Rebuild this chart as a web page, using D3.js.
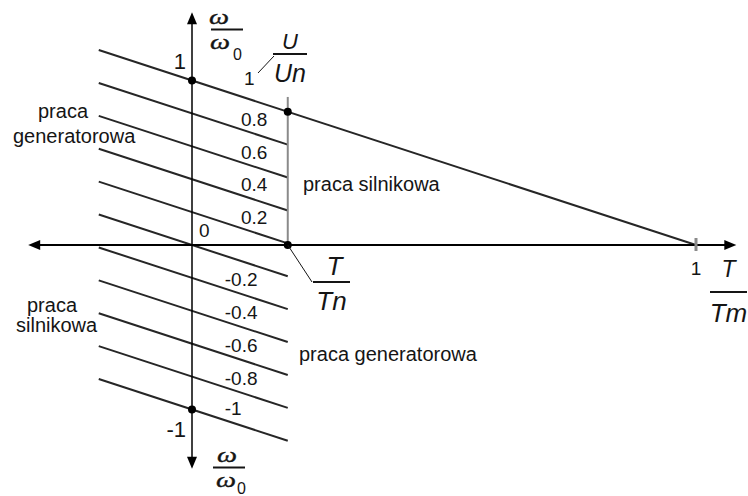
<!DOCTYPE html>
<html>
<head>
<meta charset="utf-8">
<script src="https://cdn.jsdelivr.net/npm/d3@7"></script>
<style>
  html, body { margin: 0; padding: 0; background: #fff; }
  svg { display: block; }
</style>
</head>
<body>
<svg id="chart" width="748" height="496"></svg>
<script>
// Supply voltage levels U/Un for the family of mechanical characteristics
const uLevels = [1, 0.8, 0.6, 0.4, 0.2, 0, -0.2, -0.4, -0.6, -0.8, -1];
const uLabels = ["1", "0.8", "0.6", "0.4", "0.2", "0", "-0.2", "-0.4", "-0.6", "-0.8", "-1"];
// Torque range of the drawn characteristics (T/Tm)
const tStart = -0.185;
const tNominal = 0.19;      // Tn / Tm
// Axis tick values and labels
const speedTicks = [1, -1];
const speedTickLabels = ["1", "-1"];
const torqueTicks = [1];
const torqueTickLabels = ["1"];
// Region descriptions
const regionTexts = ["praca", "generatorowa", "praca silnikowa", "praca", "silnikowa", "praca generatorowa"];

const svg = d3.select("#chart");
const sans = "'Liberation Sans', Arial, Helvetica, sans-serif";
const serif = "'Liberation Serif', 'Times New Roman', serif";
const ink = "#151515";

// T/Tm horizontally, ω/ω0 vertically
const x = d3.scaleLinear().domain([0, 1]).range([192, 696]);
const y = d3.scaleLinear().domain([-1, 1]).range([409.5, 80.5]);

// speed of a characteristic at a given torque: ω/ω0 = U/Un − T/Tm
const speed = (u, t) => u - t;
const line = d3.line().x(d => x(d[0])).y(d => y(d[1]));

// characteristics
uLevels.forEach(u => {
  const tEnd = u === 1 ? 1 : tNominal;
  svg.append("path")
    .attr("d", line([[tStart, speed(u, tStart)], [tEnd, speed(u, tEnd)]]))
    .attr("fill", "none")
    .attr("stroke", "#262626")
    .attr("stroke-width", 2);
});

// nominal torque line (motor region only)
svg.append("line")
  .attr("x1", x(tNominal)).attr("x2", x(tNominal))
  .attr("y1", y(0)).attr("y2", y(0.9))
  .attr("stroke", "#8a8a8a").attr("stroke-width", 2);

// axes
const tAxis = [-0.325, 1.08];
const wAxis = [-1.36, 1.415];
svg.append("line")
  .attr("x1", x(tAxis[0]) + 4).attr("x2", x(tAxis[1]) - 4)
  .attr("y1", y(0)).attr("y2", y(0))
  .attr("stroke", "#000").attr("stroke-width", 2);
svg.append("line")
  .attr("x1", x(0)).attr("x2", x(0))
  .attr("y1", y(wAxis[1]) + 4).attr("y2", y(wAxis[0]) - 4)
  .attr("stroke", "#000").attr("stroke-width", 1.5);

// arrow heads
const head = (tipX, tipY, dx, dy) => {
  // dx,dy: unit direction of the arrow
  const len = 12, half = 5;
  const bx = tipX - dx * len, by = tipY - dy * len;
  const px = -dy * half, py = dx * half;
  return `M${tipX},${tipY}L${bx + px},${by + py}L${bx - px},${by - py}Z`;
};
svg.append("path").attr("d", head(x(tAxis[1]), y(0), 1, 0)).attr("fill", "#000");
svg.append("path").attr("d", head(x(tAxis[0]), y(0), -1, 0)).attr("fill", "#000");
svg.append("path").attr("d", head(x(0), y(wAxis[1]), 0, -1)).attr("fill", "#000");
svg.append("path").attr("d", head(x(0), y(wAxis[0]), 0, 1)).attr("fill", "#000");

// torque tick at T/Tm = 1
torqueTicks.forEach((t, i) => {
  svg.append("line")
    .attr("x1", x(t)).attr("x2", x(t))
    .attr("y1", y(0) - 7).attr("y2", y(0) + 6)
    .attr("stroke", "#8a8a8a").attr("stroke-width", 3);
  svg.append("text")
    .attr("x", x(t)).attr("y", y(0) + 30)
    .attr("text-anchor", "middle")
    .attr("font-family", sans).attr("font-size", 19).attr("fill", ink)
    .text(torqueTickLabels[i]);
});

// speed ticks ±1
speedTicks.forEach((w, i) => {
  svg.append("text")
    .attr("x", x(0) - 6)
    .attr("y", w > 0 ? y(w) - 12 : y(w) + 27)
    .attr("text-anchor", "end")
    .attr("font-family", sans).attr("font-size", 22).attr("fill", ink)
    .text(speedTickLabels[i]);
});

// marked points
const points = [[0, 1], [tNominal, speed(1, tNominal)], [tNominal, 0], [0, -1]];
svg.selectAll("circle.pt").data(points).join("circle")
  .attr("class", "pt")
  .attr("cx", d => x(d[0])).attr("cy", d => y(d[1]))
  .attr("r", 4).attr("fill", "#000");

// voltage labels, sitting just above their characteristic
uLevels.forEach((u, i) => {
  if (u === 1) return;
  const startX = u > 0 ? x(0.097) : (u < 0 ? x(0.065) : x(0.014));
  const txt = svg.append("text")
    .attr("x", startX)
    .attr("font-family", sans).attr("font-size", 19).attr("fill", ink)
    .text(uLabels[i]);
  const w = txt.node().getComputedTextLength();
  const tc = x.invert(startX + w / 2);
  const base = u === 0 ? y(0) - 8 : y(speed(u, tc)) - 8;
  txt.attr("y", base);
});

// U = 1 label with leader to the U/Un symbol
svg.append("text")
  .attr("x", 244).attr("y", 85)
  .attr("font-family", sans).attr("font-size", 19).attr("fill", ink)
  .text(uLabels[0]);
svg.append("line")
  .attr("x1", 258).attr("y1", 73).attr("x2", 274).attr("y2", 56)
  .attr("stroke", ink).attr("stroke-width", 1);

// ω/ω0 symbol: numerator, bar, denominator with subscript
function omegaRatio(numX, numY, barX1, barX2, barY, denX, denY, subX, subY) {
  const g = svg.append("g");
  const omega = (cx, by) => g.append("text")
    .attr("x", cx - 10).attr("y", by)
    .attr("font-family", serif).attr("font-style", "italic")
    .attr("font-size", 22).attr("fill", ink)
    .attr("stroke", ink).attr("stroke-width", 0.4)
    .attr("textLength", 20).attr("lengthAdjust", "spacingAndGlyphs")
    .text("ω");
  omega(numX, numY);
  g.append("line")
    .attr("x1", barX1).attr("x2", barX2).attr("y1", barY).attr("y2", barY)
    .attr("stroke", ink).attr("stroke-width", 2);
  omega(denX, denY);
  g.append("text")
    .attr("x", subX).attr("y", subY)
    .attr("font-family", sans).attr("font-size", 16).attr("fill", ink)
    .text("0");
}
omegaRatio(219, 24, 211, 243, 29.5, 220, 49, 233, 60);
omegaRatio(227, 462, 213, 245, 467.5, 226, 487, 237, 494);

// fraction helper for the sans italic symbols
function fraction(cx, barY, barW, num, den, opts) {
  const g = svg.append("g");
  g.append("text")
    .attr("x", cx + (opts.numDx || 0)).attr("y", barY - (opts.numGap || 5))
    .attr("text-anchor", "middle")
    .attr("font-family", sans).attr("font-style", "italic")
    .attr("font-size", opts.numSize).attr("fill", ink)
    .text(num);
  g.append("line")
    .attr("x1", cx - barW / 2).attr("x2", cx + barW / 2)
    .attr("y1", barY).attr("y2", barY)
    .attr("stroke", ink).attr("stroke-width", 2);
  g.append("text")
    .attr("x", cx + (opts.denDx || 0)).attr("y", barY + (opts.denGap || 26))
    .attr("text-anchor", "middle")
    .attr("font-family", sans).attr("font-style", "italic")
    .attr("font-size", opts.denSize).attr("fill", ink)
    .text(den);
  return g;
}

// U/Un
fraction(290, 54, 34, "U", "Un", { numSize: 22, denSize: 25, numGap: 5, denGap: 28 });
// T/Tn with leader to the nominal point
svg.append("line")
  .attr("x1", x(tNominal)).attr("y1", y(0))
  .attr("x2", 312).attr("y2", 282)
  .attr("stroke", ink).attr("stroke-width", 1);
fraction(331.5, 282, 37, "T", "Tn", { numSize: 26, denSize: 26, numGap: 7, denGap: 28, numDx: 3 });
// T/Tm
fraction(728.5, 292, 37, "T", "Tm", { numSize: 23, denSize: 26, numGap: 15, denGap: 30 });

// operating region descriptions
const region = (t, px, py) => svg.append("text")
  .attr("x", px).attr("y", py)
  .attr("font-family", sans).attr("font-size", 20).attr("fill", ink)
  .text(t);
region(regionTexts[0], 38, 118);
region(regionTexts[1], 13, 143);
region(regionTexts[2], 303, 191);
region(regionTexts[3], 27, 312);
region(regionTexts[4], 16, 332);
region(regionTexts[5], 299, 361);
</script>
</body>
</html>
